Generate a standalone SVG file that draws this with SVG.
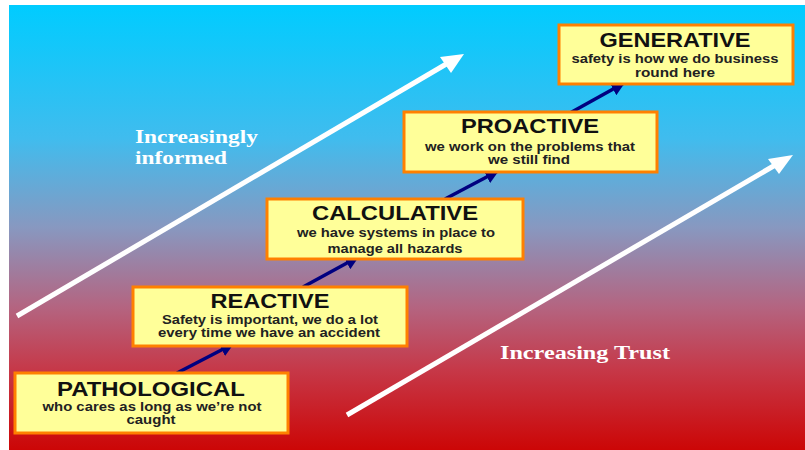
<svg xmlns="http://www.w3.org/2000/svg" width="805" height="450" viewBox="0 0 805 450">
<defs>
<linearGradient id="bg" x1="0" y1="0" x2="0" y2="1">
<stop offset="0" stop-color="#00ccff"/>
<stop offset="0.3" stop-color="#40bcee"/>
<stop offset="0.5" stop-color="#8898c0"/>
<stop offset="0.68" stop-color="#b46480"/>
<stop offset="0.82" stop-color="#c63848"/>
<stop offset="1" stop-color="#cc0606"/>
</linearGradient>
<marker id="ah" viewBox="0 0 10 10" refX="9" refY="5" markerWidth="4" markerHeight="4" orient="auto" markerUnits="strokeWidth">
<path d="M0,0 L10,5 L0,10 Z" fill="#000080"/>
</marker>
<style>
.box{fill:#ffff99;stroke:#ff8000;stroke-width:3}
.t{font-family:"Liberation Sans",Arial,sans-serif;font-weight:bold;font-size:19.5px;fill:#111;text-anchor:middle}
.s{font-family:"Liberation Sans",Arial,sans-serif;font-size:12.5px;fill:#222;text-anchor:middle;font-weight:bold}
.lbl{font-family:"Liberation Serif","Times New Roman",serif;font-weight:bold;font-size:18px;fill:#fff}
.conn{stroke:#000080;stroke-width:3.5;fill:none;marker-end:url(#ah)}
.big{stroke:#fff;stroke-width:5;fill:none}
</style>
</defs>
<rect x="0" y="0" width="805" height="450" fill="#fff"/>
<rect x="9" y="5" width="796" height="445" fill="url(#bg)"/>
<g id="big-arrows">
<line class="big" x1="17" y1="316" x2="448" y2="63"/>
<polygon points="464,54 440,57 451,73" fill="#fff"/>
<line class="big" x1="347" y1="415" x2="777" y2="164"/>
<polygon points="793,155 768,159 779,174" fill="#fff"/>
</g>
<text class="lbl" x="135" y="143" textLength="123" lengthAdjust="spacingAndGlyphs">Increasingly</text>
<text class="lbl" x="135" y="164" textLength="92" lengthAdjust="spacingAndGlyphs">informed</text>
<text class="lbl" x="500" y="359" textLength="170" lengthAdjust="spacingAndGlyphs">Increasing Trust</text>
<g id="connectors">
<line class="conn" x1="177" y1="373" x2="233" y2="344"/>
<line class="conn" x1="303" y1="287" x2="358" y2="257"/>
<line class="conn" x1="445" y1="199" x2="498" y2="171"/>
<line class="conn" x1="570" y1="113" x2="624" y2="83"/>
</g>
<g id="pathological">
<rect class="box" x="15" y="373" width="273" height="60"/>
<text class="t" x="151" y="396" textLength="188" lengthAdjust="spacingAndGlyphs">PATHOLOGICAL</text>
<text class="s" x="152" y="411" textLength="219" lengthAdjust="spacingAndGlyphs">who cares as long as we’re not</text>
<text class="s" x="151" y="424" textLength="49" lengthAdjust="spacingAndGlyphs">caught</text>
</g>
<g id="reactive">
<rect class="box" x="133" y="287" width="274" height="59"/>
<text class="t" x="270" y="308" textLength="119" lengthAdjust="spacingAndGlyphs">REACTIVE</text>
<text class="s" x="270" y="324" textLength="216" lengthAdjust="spacingAndGlyphs">Safety is important, we do a lot</text>
<text class="s" x="269" y="337" textLength="222" lengthAdjust="spacingAndGlyphs">every time we have an accident</text>
</g>
<g id="calculative">
<rect class="box" x="267" y="199" width="256" height="60"/>
<text class="t" x="395" y="220" textLength="166" lengthAdjust="spacingAndGlyphs">CALCULATIVE</text>
<text class="s" x="396" y="237" textLength="198" lengthAdjust="spacingAndGlyphs">we have systems in place to</text>
<text class="s" x="395" y="253" textLength="135" lengthAdjust="spacingAndGlyphs">manage all hazards</text>
</g>
<g id="proactive">
<rect class="box" x="404" y="112" width="253" height="60"/>
<text class="t" x="530" y="133" textLength="138" lengthAdjust="spacingAndGlyphs">PROACTIVE</text>
<text class="s" x="530" y="151" textLength="210" lengthAdjust="spacingAndGlyphs">we work on the problems that</text>
<text class="s" x="529" y="164" textLength="82" lengthAdjust="spacingAndGlyphs">we still find</text>
</g>
<g id="generative">
<rect class="box" x="559" y="25" width="234" height="59"/>
<text class="t" x="675" y="47" textLength="151" lengthAdjust="spacingAndGlyphs">GENERATIVE</text>
<text class="s" x="675" y="63" textLength="207" lengthAdjust="spacingAndGlyphs">safety is how we do business</text>
<text class="s" x="675" y="77" textLength="80" lengthAdjust="spacingAndGlyphs">round  here</text>
</g>
</svg>
